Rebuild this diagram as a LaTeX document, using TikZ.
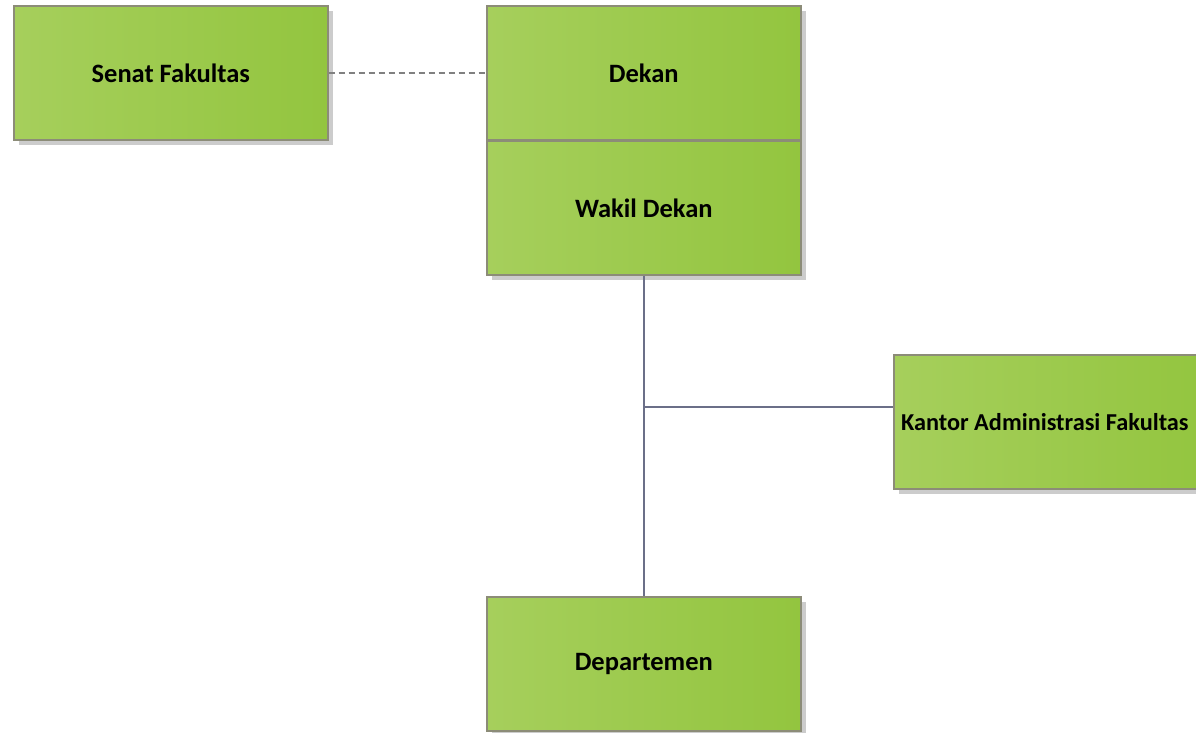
\documentclass[tikz,border=0pt]{standalone}
\usepackage{fontspec}
\setmainfont{Carlito}
\usetikzlibrary{shadows}
\definecolor{gleft}{HTML}{A6CF5C}
\definecolor{gright}{HTML}{93C53F}
\definecolor{bord}{HTML}{8C8C78}
\definecolor{conn}{HTML}{6B6F88}
\definecolor{shad}{HTML}{CCCCCC}
\tikzset{
  orgbox/.style={draw=bord, line width=1.6pt, left color=gleft, right color=gright,
    minimum width=314pt, minimum height=134pt, inner sep=0pt, anchor=north west,
    font=\fontsize{26.5}{30}\selectfont\bfseries,
    drop shadow={shadow xshift=5pt, shadow yshift=-5pt, fill=shad, opacity=1}},
  link/.style={draw=conn, line width=1.8pt},
  dlink/.style={draw=gray, line width=1.4pt, dash pattern=on 6pt off 4pt}
}
\begin{document}
\begin{tikzpicture}[x=1pt,y=-1pt]
\useasboundingbox[fill=white] (0,0) rectangle (1196,732);
\node[orgbox] (senat) at (13,5) {Senat Fakultas};
\node[orgbox, minimum height=269pt, draw=none] (dekwak) at (486,5) {};
\node[orgbox, drop shadow={opacity=0}] (dekan) at (486,5) {Dekan};
\node[orgbox, drop shadow={opacity=0}] (wakil) at (486,140) {Wakil Dekan};
\node[orgbox, font=\fontsize{24.3}{28}\selectfont\bfseries] (kantor) at (893,354) {\hspace*{-12pt}Kantor Administrasi Fakultas};
\node[orgbox] (dept) at (486,596) {Departemen};
\coordinate (j) at (643,407);
\coordinate (k) at (893,407);
\draw[dlink] (senat.east) -- (dekan.west);
\draw[link] (wakil.south) -- (dept.north);
\draw[link] (j) -- (k);
\end{tikzpicture}
\end{document}
